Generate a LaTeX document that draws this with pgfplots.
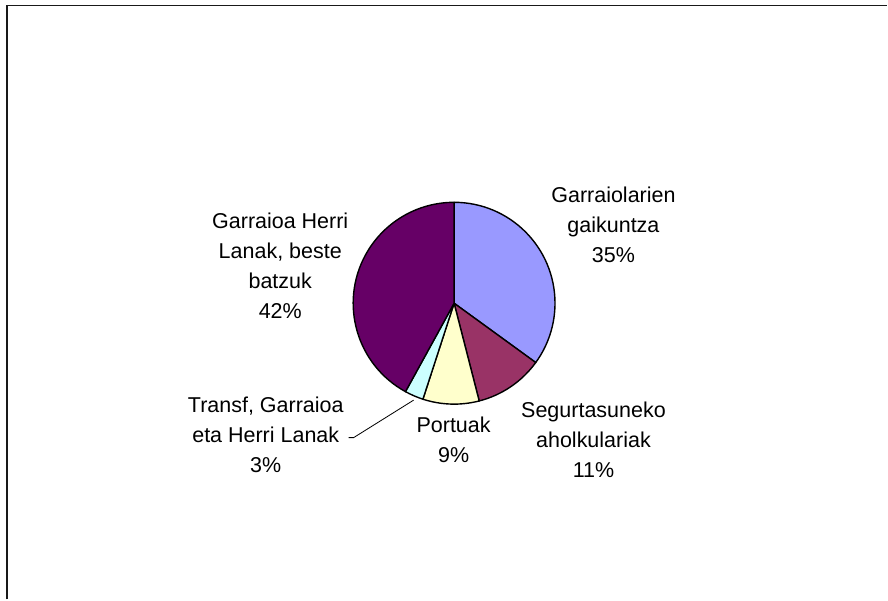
\documentclass[border=0pt]{standalone}
\usepackage{pgfplots}
\pgfplotsset{compat=1.18}
\usepackage{fontspec}
\setmainfont{Liberation Sans}
\definecolor{c1}{HTML}{9999FF}
\definecolor{c2}{HTML}{993366}
\definecolor{c3}{HTML}{FFFFCC}
\definecolor{c4}{HTML}{CCFFFF}
\definecolor{c5}{HTML}{660066}
\begin{document}
\begin{tikzpicture}
\begin{axis}[width=888bp,height=600bp,scale only axis,
  xmin=0,xmax=888,ymin=0,ymax=600,y dir=reverse,
  hide axis,clip=false]
\addplot[draw=none,forget plot] coordinates {(0,0) (888,600)};
\draw[line width=1.6bp, black!90] (axis cs:7.3,600) -- (axis cs:7.3,5.7) -- (axis cs:888,5.7);
\gdef\curang{90}
\foreach \v/\c in {35/c1,11/c2,9/c3,3/c4,42/c5} {
  \pgfmathsetmacro\e{\curang-3.6*\v}
  \edef\temp{\noexpand\filldraw[fill=\c, draw=black, line width=1.4bp, line join=round]
    (axis cs:454.5,303.5) -- ++(\curang:101bp) arc[start angle=\curang, end angle=\e, radius=101bp] -- cycle;}
  \temp
  \xdef\curang{\e}
}
\draw[line width=0.8bp] (axis cs:414,400.5) -- (axis cs:354,438) -- (axis cs:349,438);
\tikzset{lab/.style={align=center, inner sep=0pt, font=\fontsize{21.5bp}{30bp}\selectfont}}
\node[lab] at (axis cs:614,225) {Garraiolarien\\gaikuntza\\35\%};
\node[lab] at (axis cs:280.5,266) {Garraioa Herri\\Lanak, beste\\batzuk\\42\%};
\node[lab] at (axis cs:266,435) {Transf, Garraioa\\eta Herri Lanak\\3\%};
\node[lab] at (axis cs:454,440.5) {Portuak\\9\%};
\node[lab] at (axis cs:594,440) {Segurtasuneko\\aholkulariak\\11\%};
\end{axis}
\end{tikzpicture}
\end{document}
